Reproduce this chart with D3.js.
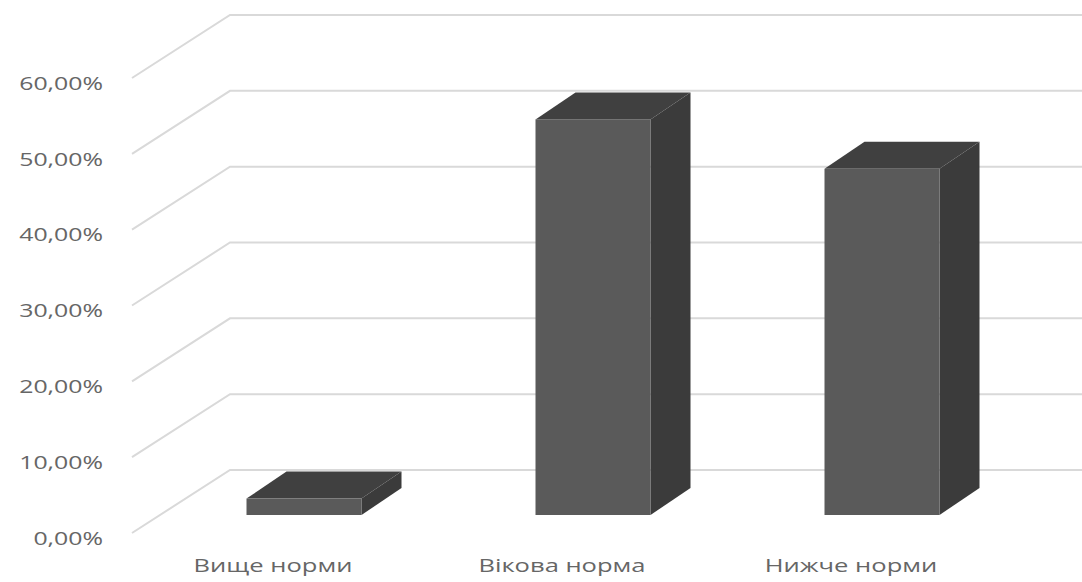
<!DOCTYPE html>
<html><head><meta charset="utf-8">
<script src="https://cdn.jsdelivr.net/npm/d3@7"></script>
<style>html,body{margin:0;padding:0;background:#fff;}svg{display:block;}</style>
</head><body>
<svg id="chart" width="1082" height="582"></svg>
<script>
const categories = ["Вище норми", "Вікова норма", "Нижче норми"];
const values = [0.0217, 0.5217, 0.4565];
const tickValues = [0, 0.1, 0.2, 0.3, 0.4, 0.5, 0.6];
const tickLabels = ["0,00%", "10,00%", "20,00%", "30,00%", "40,00%", "50,00%", "60,00%"];

const svg = d3.select("#chart");
const W = 1082;
const y = d3.scaleLinear().domain([0, 0.6]).range([470, 15]);
const x = d3.scalePoint().domain(categories).range([304, 882]);
const barW = 115, dx = 40, dy = -27, frontBase = 515;
const wallX0 = 132, wallX1 = 230, wallDrop = 63;
const stretch = 1.42;

// gridlines (side wall diagonal + back wall horizontal)
svg.append("g").selectAll("path").data(tickValues).join("path")
  .attr("d", v => `M${wallX0},${y(v) + wallDrop}L${wallX1},${y(v)}L${W},${y(v)}`)
  .attr("fill", "none").attr("stroke", "#d9d9d9").attr("stroke-width", 2);

// y labels
svg.append("g").selectAll("text").data(tickValues).join("text")
  .attr("transform", v => `translate(103,${y(v) + 70}) scale(${stretch},1)`)
  .attr("text-anchor", "end").attr("dominant-baseline", "middle")
  .attr("font-family", "Open Sans, sans-serif").attr("font-size", 17.5)
  .attr("fill", "#666666")
  .text((v, i) => tickLabels[i]);

// bars
const bars = svg.append("g").selectAll("g").data(categories.map((c, i) => ({c, v: values[i]}))).join("g");
bars.each(function(d) {
  const g = d3.select(this);
  const h = y(0) - y(d.v);
  const x0 = x(d.c) - barW / 2, x1 = x0 + barW;
  const yt = frontBase - h;
  g.append("path").attr("d", `M${x1},${frontBase}L${x1 + dx},${frontBase + dy}L${x1 + dx},${yt + dy}L${x1},${yt}Z`)
    .attr("fill", "#3b3b3b");
  g.append("path").attr("d", `M${x0},${yt}L${x0 + dx},${yt + dy}L${x1 + dx},${yt + dy}L${x1},${yt}Z`)
    .attr("fill", "#404040");
  g.append("rect").attr("x", x0).attr("y", yt).attr("width", barW).attr("height", h)
    .attr("fill", "#5a5a5a");
});

// category labels
svg.append("g").selectAll("text").data(categories).join("text")
  .attr("transform", c => `translate(${x(c) - 31},567) scale(${stretch},1)`)
  .attr("text-anchor", "middle").attr("dominant-baseline", "middle")
  .attr("font-family", "Open Sans, sans-serif").attr("font-size", 18)
  .attr("fill", "#666666")
  .text(c => c);
</script>
</body></html>
